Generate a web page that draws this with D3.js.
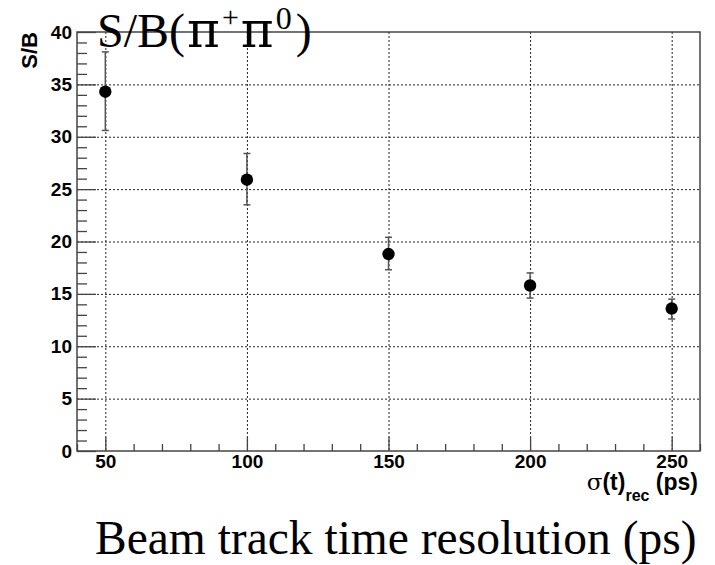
<!DOCTYPE html>
<html>
<head>
<meta charset="utf-8">
<script src="https://cdn.jsdelivr.net/npm/d3@7"></script>
<style>
  html, body { margin: 0; padding: 0; background: #fff; }
  svg { display: block; }
</style>
</head>
<body>
<svg id="chart" width="715" height="565"></svg>
<script>
// data
const resolution = [50, 100, 150, 200, 250];      // sigma(t)_rec in ps
const sbValue    = [34.3, 25.9, 18.8, 15.8, 13.6];
const errLow     = [30.6, 23.5, 17.3, 14.6, 12.6];
const errHigh    = [38.1, 28.4, 20.4, 17.0, 14.5];

const xMajorTicks = [50, 100, 150, 200, 250];
const yMajorTicks = [0, 5, 10, 15, 20, 25, 30, 35, 40];

const frame = { left: 77, right: 700, top: 32, bottom: 451 };

const svg = d3.select('#chart');

const x = d3.scaleLinear().domain([40, 260]).range([frame.left, frame.right]);
const y = d3.scaleLinear().domain([0, 40]).range([frame.bottom, frame.top]);

const xMinor = d3.range(40, 261, 10).filter(v => !xMajorTicks.includes(v));
const yMinor = d3.range(0, 40.01, 1).filter(v => v % 5 !== 0);

// dotted grid
const grid = svg.append('g')
    .attr('stroke', '#222')
    .attr('stroke-width', 1)
    .attr('stroke-dasharray', '2,2');

grid.selectAll('line.h')
    .data(yMajorTicks.filter(v => v > 0 && v < 40))
    .join('line')
    .attr('x1', frame.left).attr('x2', frame.right)
    .attr('y1', d => y(d) + 0.5).attr('y2', d => y(d) + 0.5);

grid.selectAll('line.v')
    .data(xMajorTicks)
    .join('line')
    .attr('y1', frame.top).attr('y2', frame.bottom)
    .attr('x1', d => x(d) + 0.5).attr('x2', d => x(d) + 0.5);

// axes, ticks pointing into the frame
const tickStyle = g => {
    g.select('.domain').remove();
    g.selectAll('.tick line').attr('stroke', '#444').attr('stroke-width', 1.3);
};
const labelFont = 'bold 19px "Liberation Sans", Arial, sans-serif';

svg.append('g')
    .attr('transform', `translate(0,${frame.bottom})`)
    .call(d3.axisBottom(x).tickValues(xMinor).tickSize(-7).tickFormat(''))
    .call(tickStyle);

svg.append('g')
    .attr('transform', `translate(0,${frame.bottom})`)
    .call(d3.axisBottom(x).tickValues(xMajorTicks).tickSize(-14).tickPadding(4).tickFormat(d3.format('d')))
    .call(tickStyle)
    .call(g => g.selectAll('.tick text').attr('fill', '#000').style('font', labelFont));

svg.append('g')
    .attr('transform', `translate(${frame.left},0)`)
    .call(d3.axisLeft(y).tickValues(yMinor).tickSize(-10).tickFormat(''))
    .call(tickStyle);

svg.append('g')
    .attr('transform', `translate(${frame.left},0)`)
    .call(d3.axisLeft(y).tickValues(yMajorTicks).tickSize(-19).tickPadding(5).tickFormat(d3.format('d')))
    .call(tickStyle)
    .call(g => g.selectAll('.tick text').attr('fill', '#000').style('font', labelFont));

// frame
svg.append('rect')
    .attr('x', frame.left).attr('y', frame.top)
    .attr('width', frame.right - frame.left)
    .attr('height', frame.bottom - frame.top)
    .attr('fill', 'none')
    .attr('stroke', '#444')
    .attr('stroke-width', 1.5);

// error bars
const points = resolution.map((r, i) => ({ r, v: sbValue[i], lo: errLow[i], hi: errHigh[i] }));

const errs = svg.append('g')
    .attr('stroke', '#555')
    .attr('stroke-width', 1.5);

errs.selectAll('line.bar')
    .data(points)
    .join('line')
    .attr('x1', d => x(d.r)).attr('x2', d => x(d.r))
    .attr('y1', d => y(d.lo)).attr('y2', d => y(d.hi));

errs.selectAll('line.capHi')
    .data(points)
    .join('line')
    .attr('x1', d => x(d.r) - 3.5).attr('x2', d => x(d.r) + 3.5)
    .attr('y1', d => y(d.hi)).attr('y2', d => y(d.hi));

errs.selectAll('line.capLo')
    .data(points)
    .join('line')
    .attr('x1', d => x(d.r) - 3.5).attr('x2', d => x(d.r) + 3.5)
    .attr('y1', d => y(d.lo)).attr('y2', d => y(d.lo));

// markers
svg.append('g')
    .selectAll('circle')
    .data(points)
    .join('circle')
    .attr('cx', d => x(d.r))
    .attr('cy', d => y(d.v))
    .attr('r', 6.2)
    .attr('fill', '#000');

// y axis title
svg.append('text')
    .attr('transform', 'translate(37,32) rotate(-90)')
    .attr('text-anchor', 'end')
    .style('font', 'bold 22px "Liberation Sans", Arial, sans-serif')
    .text('S/B');

// x axis title: sigma(t)_rec (ps)
const xt = svg.append('text')
    .attr('x', 698)
    .attr('y', 490)
    .attr('text-anchor', 'end')
    .style('font', 'bold 23px "Liberation Sans", Arial, sans-serif');
xt.append('tspan').style('font-weight', 'normal').style('font-family', '"DejaVu Serif", serif').text('σ');
xt.append('tspan').text('(t)');
xt.append('tspan').attr('dy', 11).style('font-size', '16px').text('rec');
xt.append('tspan').attr('dy', -11).text(' (ps)');

// big title
const title = svg.append('text')
    .attr('x', 97)
    .attr('y', 47)
    .style('font', '48px "Liberation Serif", "Times New Roman", serif');
title.append('tspan').text('S/B(');
title.append('tspan').attr('dx', 2)
    .style('font-family', '"DejaVu Serif", serif').style('font-size', '50px')
    .text('π');
title.append('tspan').attr('dx', 2).attr('dy', -20).style('font-size', '30px').text('+');
title.append('tspan').attr('dx', 2).attr('dy', 20)
    .style('font-family', '"DejaVu Serif", serif').style('font-size', '50px')
    .text('π');
title.append('tspan').attr('dx', 2).attr('dy', -18).style('font-size', '32px').text('0');
title.append('tspan').attr('dx', 4).attr('dy', 18).text(')');

// caption below the plot
svg.append('text')
    .attr('x', 95)
    .attr('y', 554)
    .style('font', '47.5px "Liberation Serif", "Times New Roman", serif')
    .text('Beam track time resolution (ps)');
</script>
</body>
</html>
